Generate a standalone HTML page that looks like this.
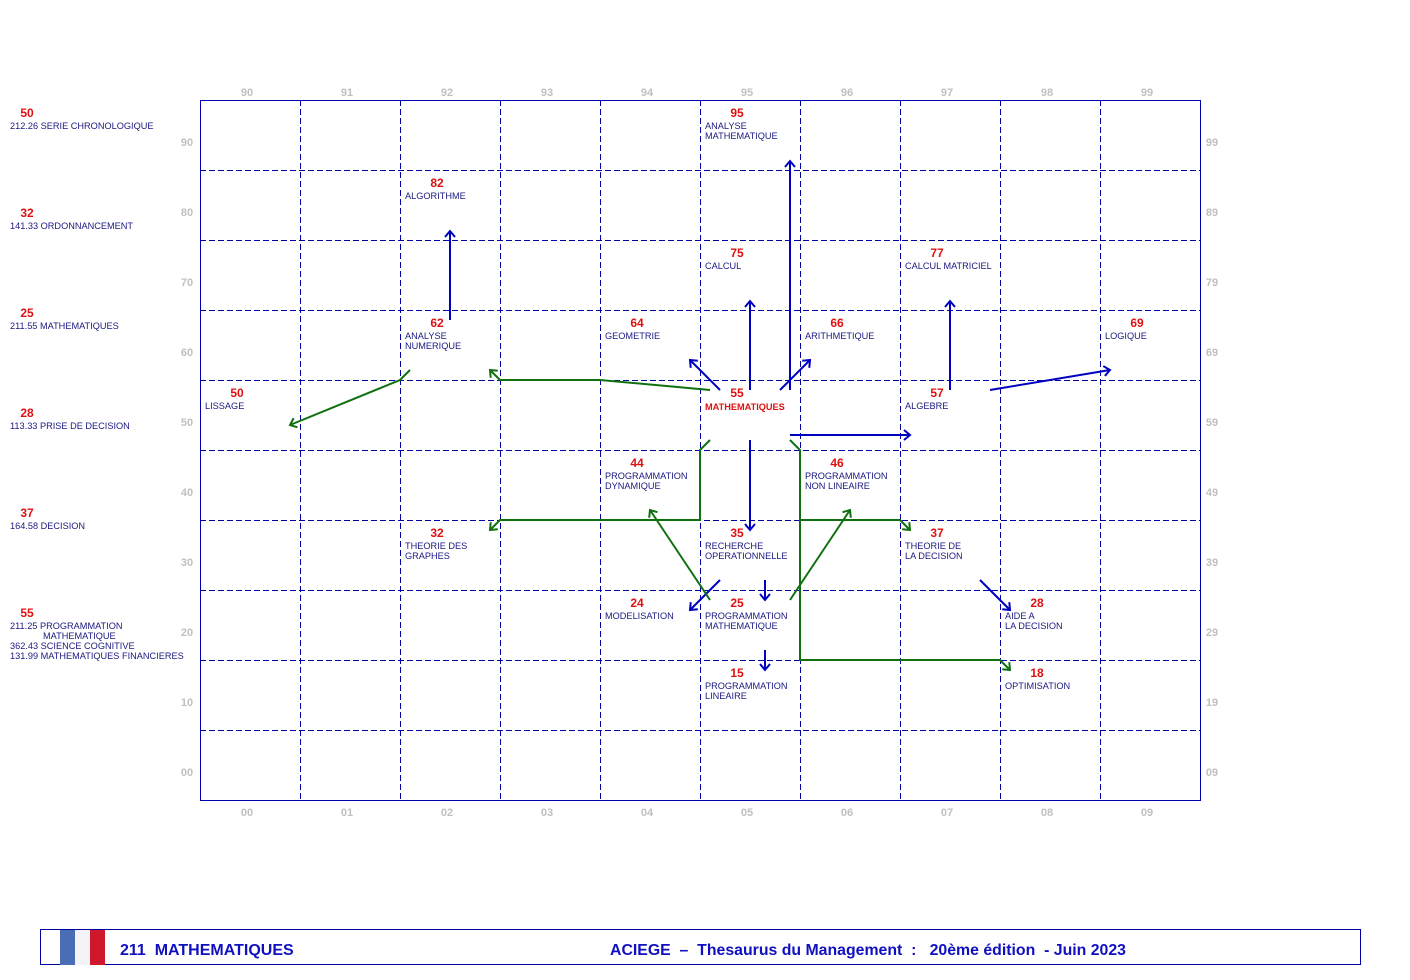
<!DOCTYPE html>
<html><head><meta charset="utf-8"><style>
html,body{margin:0;padding:0;background:#fff;}
svg{display:block;font-family:"Liberation Sans",Arial,sans-serif;}
.n{fill:#e01010;font-weight:bold;font-size:12px;text-anchor:middle}
.l{fill:#1a1a80;font-size:9.2px}
.ax{fill:#c0c0c0;font-weight:bold;font-size:11px;text-anchor:middle}
.b{stroke:#0000c0;stroke-width:2;fill:none}
.g{stroke:#107010;stroke-width:2;fill:none}
</style></head><body>
<svg width="1410" height="980" viewBox="0 0 1410 980">
<defs>
<marker id="ab" markerWidth="12" markerHeight="12" refX="9" refY="6" orient="auto" markerUnits="userSpaceOnUse"><polyline points="3,1 9,6 3,11" fill="none" stroke="#0000c0" stroke-width="2"/></marker>
<marker id="ag" markerWidth="12" markerHeight="12" refX="9" refY="6" orient="auto" markerUnits="userSpaceOnUse"><polyline points="3,1 9,6 3,11" fill="none" stroke="#107010" stroke-width="2"/></marker>
</defs>
<g stroke="#0000a0" stroke-width="1" stroke-dasharray="6,3" fill="none" shape-rendering="crispEdges">
<path d="M300.5 100V800M400.5 100V800M500.5 100V800M600.5 100V800M700.5 100V800M800.5 100V800M900.5 100V800M1000.5 100V800M1100.5 100V800"/>
<path d="M200 170.5H1200M200 240.5H1200M200 310.5H1200M200 380.5H1200M200 450.5H1200M200 520.5H1200M200 590.5H1200M200 660.5H1200M200 730.5H1200"/>
</g>
<rect x="200.5" y="100.5" width="1000" height="700" fill="none" stroke="#0000b0" shape-rendering="crispEdges"/>
<g class="ax">
<text x="247" y="96">90</text><text x="347" y="96">91</text><text x="447" y="96">92</text><text x="547" y="96">93</text><text x="647" y="96">94</text><text x="747" y="96">95</text><text x="847" y="96">96</text><text x="947" y="96">97</text><text x="1047" y="96">98</text><text x="1147" y="96">99</text>
<text x="247" y="816">00</text><text x="347" y="816">01</text><text x="447" y="816">02</text><text x="547" y="816">03</text><text x="647" y="816">04</text><text x="747" y="816">05</text><text x="847" y="816">06</text><text x="947" y="816">07</text><text x="1047" y="816">08</text><text x="1147" y="816">09</text>
<text x="187" y="146">90</text><text x="187" y="216">80</text><text x="187" y="286">70</text><text x="187" y="356">60</text><text x="187" y="426">50</text><text x="187" y="496">40</text><text x="187" y="566">30</text><text x="187" y="636">20</text><text x="187" y="706">10</text><text x="187" y="776">00</text>
<text x="1212" y="146">99</text><text x="1212" y="216">89</text><text x="1212" y="286">79</text><text x="1212" y="356">69</text><text x="1212" y="426">59</text><text x="1212" y="496">49</text><text x="1212" y="566">39</text><text x="1212" y="636">29</text><text x="1212" y="706">19</text><text x="1212" y="776">09</text>
</g>
<text class="n" x="27" y="117">50</text><text class="l" x="10" y="129">212.26 SERIE CHRONOLOGIQUE</text>
<text class="n" x="27" y="217">32</text><text class="l" x="10" y="229">141.33 ORDONNANCEMENT</text>
<text class="n" x="27" y="317">25</text><text class="l" x="10" y="329">211.55 MATHEMATIQUES</text>
<text class="n" x="27" y="417">28</text><text class="l" x="10" y="429">113.33 PRISE DE DECISION</text>
<text class="n" x="27" y="517">37</text><text class="l" x="10" y="529">164.58 DECISION</text>
<text class="n" x="27" y="617">55</text><text class="l" x="10" y="629">211.25 PROGRAMMATION</text><text class="l" x="43" y="639">MATHEMATIQUE</text><text class="l" x="10" y="649">362.43 SCIENCE COGNITIVE</text><text class="l" x="10" y="659">131.99 MATHEMATIQUES FINANCIERES</text>
<text class="n" x="737" y="117">95</text><text class="l" x="705" y="129">ANALYSE</text><text class="l" x="705" y="139">MATHEMATIQUE</text>
<text class="n" x="437" y="187">82</text><text class="l" x="405" y="199">ALGORITHME</text>
<text class="n" x="737" y="257">75</text><text class="l" x="705" y="269">CALCUL</text>
<text class="n" x="937" y="257">77</text><text class="l" x="905" y="269">CALCUL MATRICIEL</text>
<text class="n" x="437" y="327">62</text><text class="l" x="405" y="339">ANALYSE</text><text class="l" x="405" y="349">NUMERIQUE</text>
<text class="n" x="637" y="327">64</text><text class="l" x="605" y="339">GEOMETRIE</text>
<text class="n" x="837" y="327">66</text><text class="l" x="805" y="339">ARITHMETIQUE</text>
<text class="n" x="1137" y="327">69</text><text class="l" x="1105" y="339">LOGIQUE</text>
<text class="n" x="237" y="397">50</text><text class="l" x="205" y="409">LISSAGE</text>
<text class="n" x="737" y="397">55</text><text x="705" y="410" style="fill:#e01010;font-weight:bold;font-size:9.2px">MATHEMATIQUES</text>
<text class="n" x="937" y="397">57</text><text class="l" x="905" y="409">ALGEBRE</text>
<text class="n" x="637" y="467">44</text><text class="l" x="605" y="479">PROGRAMMATION</text><text class="l" x="605" y="489">DYNAMIQUE</text>
<text class="n" x="837" y="467">46</text><text class="l" x="805" y="479">PROGRAMMATION</text><text class="l" x="805" y="489">NON LINEAIRE</text>
<text class="n" x="437" y="537">32</text><text class="l" x="405" y="549">THEORIE DES</text><text class="l" x="405" y="559">GRAPHES</text>
<text class="n" x="737" y="537">35</text><text class="l" x="705" y="549">RECHERCHE</text><text class="l" x="705" y="559">OPERATIONNELLE</text>
<text class="n" x="937" y="537">37</text><text class="l" x="905" y="549">THEORIE DE</text><text class="l" x="905" y="559">LA DECISION</text>
<text class="n" x="637" y="607">24</text><text class="l" x="605" y="619">MODELISATION</text>
<text class="n" x="737" y="607">25</text><text class="l" x="705" y="619">PROGRAMMATION</text><text class="l" x="705" y="629">MATHEMATIQUE</text>
<text class="n" x="1037" y="607">28</text><text class="l" x="1005" y="619">AIDE A</text><text class="l" x="1005" y="629">LA DECISION</text>
<text class="n" x="737" y="677">15</text><text class="l" x="705" y="689">PROGRAMMATION</text><text class="l" x="705" y="699">LINEAIRE</text>
<text class="n" x="1037" y="677">18</text><text class="l" x="1005" y="689">OPTIMISATION</text>
<g class="b" marker-end="url(#ab)">
<line x1="450" y1="320" x2="450" y2="231"/>
<line x1="750" y1="390" x2="750" y2="301"/>
<line x1="790" y1="390" x2="790" y2="161"/>
<line x1="720" y1="390" x2="690" y2="360"/>
<line x1="780" y1="390" x2="810" y2="360"/>
<line x1="950" y1="390" x2="950" y2="301"/>
<line x1="990" y1="390" x2="1110" y2="370"/>
<line x1="790" y1="435" x2="910" y2="435"/>
<line x1="750" y1="440" x2="750" y2="530"/>
<line x1="720" y1="580" x2="690" y2="610"/>
<line x1="765" y1="580" x2="765" y2="600"/>
<line x1="765" y1="650" x2="765" y2="670"/>
<line x1="980" y1="580" x2="1010" y2="610"/>
</g>
<g class="g" marker-end="url(#ag)">
<polyline points="410,370 400,380 290,425"/>
<polyline points="710,390 600,380 500,380 490,370"/>
<polyline points="710,440 700,450 700,520 500,520 490,530"/>
<polyline points="710,600 650,510"/>
<polyline points="790,440 800,450 800,660 1000,660 1010,670"/>
<polyline points="800,520 900,520 910,530"/>
<polyline points="790,600 850,510"/>
</g>
<rect x="40.5" y="929.5" width="1320" height="35" fill="none" stroke="#0000a0"/>
<rect x="60" y="930" width="15" height="35" fill="#4a6db5"/>
<rect x="75" y="930" width="15" height="35" fill="#f4f4f8"/>
<rect x="90" y="930" width="15" height="35" fill="#d0182c"/>
<text x="120" y="955" xml:space="preserve" style="fill:#1010c0;font-weight:bold;font-size:16px;white-space:pre">211  MATHEMATIQUES</text>
<text x="610" y="955" textLength="516" lengthAdjust="spacingAndGlyphs" xml:space="preserve" style="fill:#1010c0;font-weight:bold;font-size:16px;white-space:pre">ACIEGE  –  Thesaurus du Management  :   20ème édition  - Juin 2023</text>
</svg>
</body></html>
